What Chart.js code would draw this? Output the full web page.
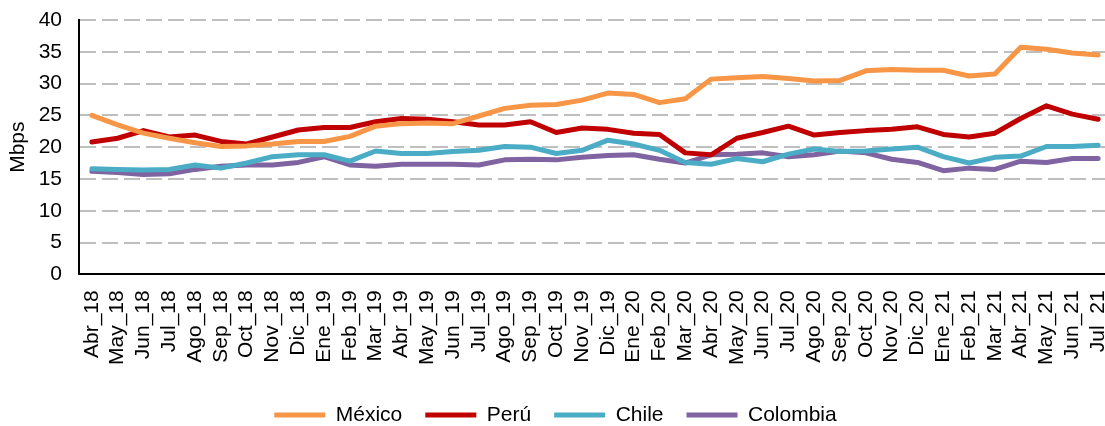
<!DOCTYPE html>
<html>
<head>
<meta charset="utf-8">
<script src="https://cdn.jsdelivr.net/npm/chart.js@4.4.1/dist/chart.umd.min.js"></script>
<style>
html,body{margin:0;padding:0;overflow:hidden;background:#ffffff;}
#c{display:block;}
</style>
</head>
<body>
<canvas id="c" width="1112" height="426" style="width:1112px;height:426px"></canvas>
<script>
const categories = ["Abr_18","May_18","Jun_18","Jul_18","Ago_18","Sep_18","Oct_18","Nov_18","Dic_18",
  "Ene_19","Feb_19","Mar_19","Abr_19","May_19","Jun_19","Jul_19","Ago_19","Sep_19","Oct_19","Nov_19","Dic_19",
  "Ene_20","Feb_20","Mar_20","Abr_20","May_20","Jun_20","Jul_20","Ago_20","Sep_20","Oct_20","Nov_20","Dic_20",
  "Ene_21","Feb_21","Mar_21","Abr_21","May_21","Jun_21","Jul_21"];

const mexico = [25.0,23.5,22.2,21.4,20.7,20.1,20.2,20.5,20.9,20.9,21.7,23.3,23.7,23.8,23.7,24.9,26.1,26.6,26.7,27.4,28.5,
  28.3,27.0,27.6,30.7,30.9,31.1,30.8,30.4,30.5,32.0,32.2,32.1,32.1,31.2,31.5,35.7,35.4,34.8,34.5];
const peru = [20.8,21.4,22.6,21.6,21.9,20.9,20.5,21.6,22.7,23.1,23.1,24.0,24.5,24.4,24.0,23.5,23.5,24.0,22.3,23.0,22.8,
  22.2,22.0,19.1,18.8,21.4,22.3,23.3,21.9,22.3,22.6,22.8,23.2,22.0,21.6,22.2,24.5,26.5,25.2,24.4];
const chile = [16.6,16.5,16.4,16.5,17.2,16.7,17.5,18.5,18.8,18.8,17.8,19.4,19.0,19.0,19.3,19.5,20.1,20.0,19.0,19.5,21.1,
  20.5,19.5,17.6,17.3,18.2,17.7,18.9,19.7,19.3,19.4,19.7,20.0,18.5,17.5,18.4,18.6,20.1,20.1,20.3];
const colombia = [16.2,16.0,15.7,15.8,16.5,17.0,17.2,17.2,17.6,18.5,17.2,17.0,17.3,17.3,17.3,17.2,18.0,18.1,18.0,18.4,18.7,
  18.8,18.1,17.5,18.8,18.9,19.1,18.5,18.8,19.4,19.1,18.1,17.6,16.3,16.7,16.5,17.8,17.6,18.2,18.2];

const seriesNames = ["México","Perú","Chile","Colombia"];
const seriesColors = ["#F79646","#C00000","#4BACC6","#8064A2"];
const seriesData = [mexico, peru, chile, colombia];

const yTitle = "Mbps";
const yMin = 0, yMax = 40, yStep = 5;

const FONT = "'Liberation Sans', Arial, sans-serif";

const datasets = seriesNames.map((name, i) => ({
  label: name,
  data: seriesData[i],
  borderColor: seriesColors[i],
  backgroundColor: seriesColors[i],
  borderWidth: 5,
  borderCapStyle: 'round',
  borderJoinStyle: 'round',
  pointRadius: 0,
  pointHoverRadius: 0,
  tension: 0,
  fill: false
}));

new Chart(document.getElementById('c'), {
  type: 'line',
  data: { labels: categories, datasets },
  options: {
    responsive: false,
    animation: false,
    events: [],
    layout: { padding: { top: 20, left: 0, right: 1, bottom: -9.5 } },
    plugins: {
      tooltip: { enabled: false },
      legend: {
        position: 'bottom',
        labels: {
          usePointStyle: true,
          pointStyle: 'line',
          pointStyleWidth: 51,
          padding: 23,
          color: '#000',
          font: { family: FONT, size: 21 }
        }
      }
    },
    scales: {
      x: {
        type: 'category',
        offset: true,
        grid: { display: false, drawTicks: false },
        border: { display: true, color: '#000', width: 2 },
        ticks: {
          autoSkip: false,
          maxRotation: 90,
          minRotation: 90,
          padding: 16,
          color: '#000',
          font: { family: FONT, size: 21 }
        },
        afterFit: (s) => { s.height = 107.2; s.paddingLeft = 0; s.paddingRight = 0; }
      },
      y: {
        min: yMin,
        max: yMax,
        grid: {
          drawTicks: false,
          lineWidth: 2,
          color: (ctx) => (ctx.tick && ctx.tick.value === 0) ? 'rgba(0,0,0,0)' : '#BFBFBF'
        },
        border: { display: true, color: '#000', width: 2, dash: [16, 6] },
        ticks: {
          stepSize: yStep,
          padding: 17,
          color: '#000',
          font: { family: FONT, size: 21 }
        },
        title: {
          display: true,
          text: yTitle,
          color: '#000',
          font: { family: FONT, size: 21 },
          padding: { top: 6, bottom: 0 }
        },
        afterFit: (s) => { s.width = 79; s.paddingTop = 0; s.paddingBottom = 0; }
      }
    }
  }
});
</script>
</body>
</html>
